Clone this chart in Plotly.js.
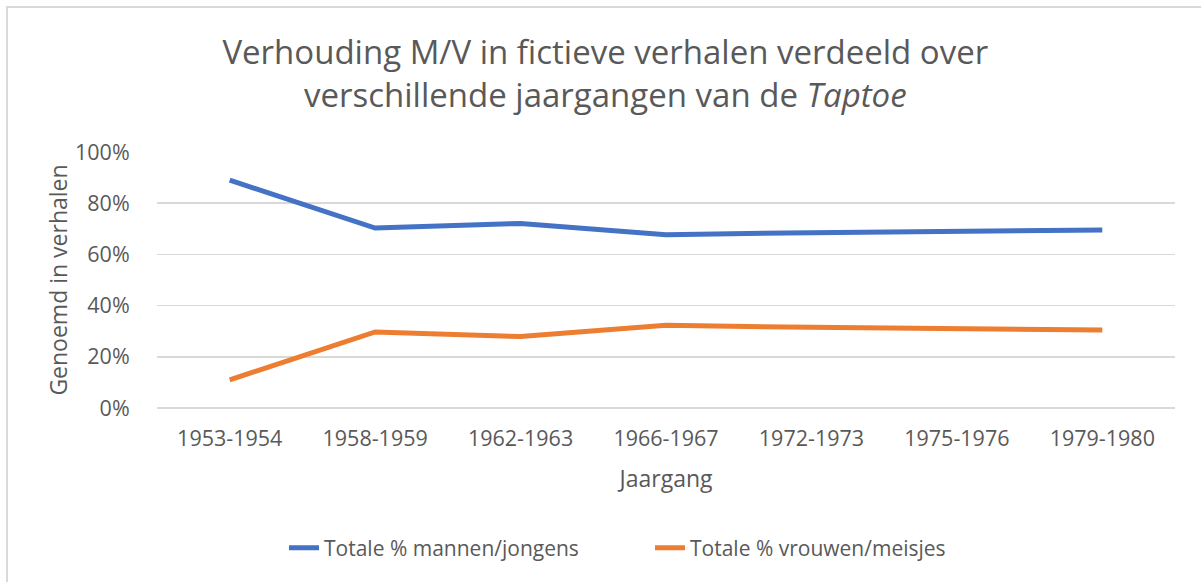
<!DOCTYPE html>
<html>
<head>
<meta charset="utf-8">
<script src="https://cdn.plot.ly/plotly-3.0.1.min.js"></script>
<style>html,body{margin:0;padding:0;background:#fff;}#chart{width:1201px;height:582px;}</style>
</head>
<body>
<div id="chart"></div>
<script>
const categories = ["1953-1954","1958-1959","1962-1963","1966-1967","1972-1973","1975-1976","1979-1980"];
const mannen = [0.89, 0.703, 0.721, 0.677, 0.685, 0.690, 0.695];
const vrouwen = [0.11, 0.297, 0.279, 0.323, 0.315, 0.310, 0.305];
const seriesNames = ["Totale % mannen/jongens", "Totale % vrouwen/meisjes"];
const yTicks = [0, 0.2, 0.4, 0.6, 0.8, 1.0];
const yTickLabels = ["0%","20%","40%","60%","80%","100%"];

const font = "Open Sans, Liberation Sans, sans-serif";
const grey = "#595959";

const traces = [
  {x: categories, y: mannen, name: seriesNames[0], type: "scatter", mode: "lines",
   line: {color: "#4472C4", width: 5}, legend: "legend"},
  {x: categories, y: vrouwen, name: seriesNames[1], type: "scatter", mode: "lines",
   line: {color: "#ED7D31", width: 5}, legend: "legend2"}
];

const legendBase = {
  orientation: "h", xanchor: "left", y: -0.547, yanchor: "middle",
  font: {size: 21, color: grey}, bgcolor: "rgba(0,0,0,0)"
};

const layout = {
  width: 1201, height: 582,
  margin: {l: 157, r: 26, t: 152, b: 174},
  paper_bgcolor: "#fff", plot_bgcolor: "#fff",
  font: {family: font, color: grey, size: 20},
  title: {
    text: "Verhouding M/V in fictieve verhalen verdeeld over<br>verschillende jaargangen van de <i>Taptoe</i>",
    font: {family: font, size: 33, color: grey},
    x: 0.504, xref: "container", xanchor: "center",
    y: 1 - 64/582, yref: "container", yanchor: "top"
  },
  xaxis: {
    type: "category", range: [-0.5, 6.5],
    showgrid: false, zeroline: false, showline: false,
    ticks: "outside", ticklen: 11, tickcolor: "rgba(0,0,0,0)",
    tickfont: {size: 21.5, color: grey},
    title: {text: "Jaargang", font: {size: 23, color: grey}, standoff: 20}
  },
  yaxis: {
    range: [0, 1], tickvals: yTicks, ticktext: yTickLabels,
    showgrid: true, gridcolor: "#d9d9d9", gridwidth: 1.5,
    zeroline: true, zerolinecolor: "#d9d9d9", zerolinewidth: 1.5,
    showline: false,
    ticks: "outside", ticklen: 22, tickcolor: "rgba(0,0,0,0)",
    tickfont: {size: 21.5, color: grey},
    title: {text: "Genoemd in verhalen", font: {size: 23, color: grey}, standoff: 0}
  },
  showlegend: true,
  legend: Object.assign({}, legendBase, {x: (284 - 157) / 1018}),
  legend2: Object.assign({}, legendBase, {x: (650 - 157) / 1018}),
  shapes: [{
    type: "path", xref: "paper", yref: "paper",
    path: "M -0.1473 -0.7 L -0.1473 1.566 L 1.1 1.566",
    line: {color: "#d9d9d9", width: 2}
  }]
};

Plotly.newPlot("chart", traces, layout, {displayModeBar: false, staticPlot: true});
</script>
</body>
</html>
